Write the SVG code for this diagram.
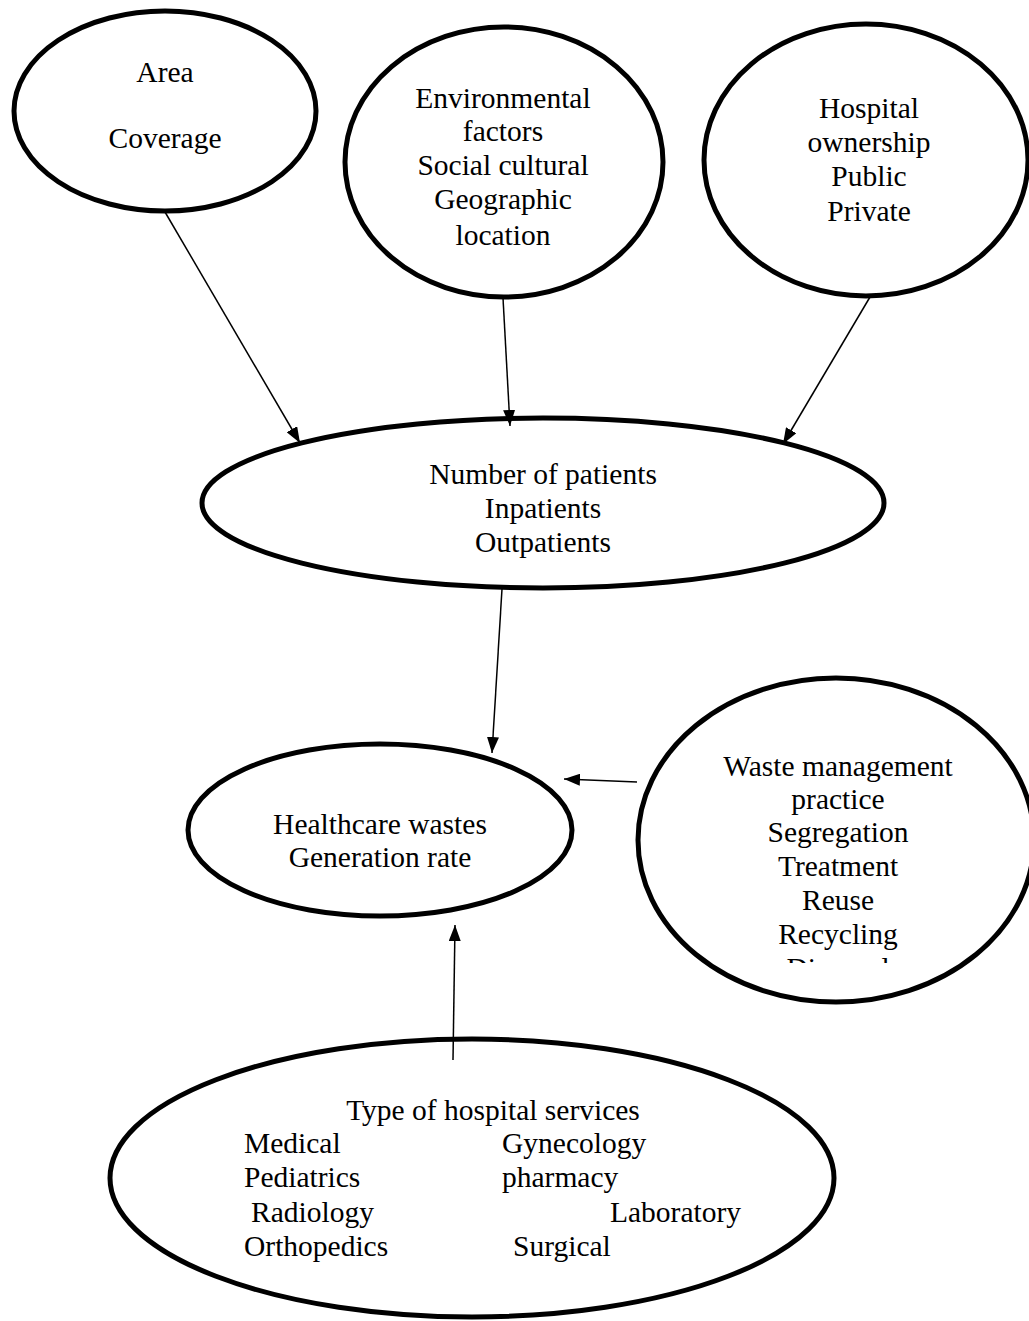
<svg xmlns="http://www.w3.org/2000/svg" width="1029" height="1321" viewBox="0 0 1029 1321">
<style>
.n{fill:#fff;stroke:#000;stroke-width:5}
.t{font-family:"Liberation Serif","Times New Roman",serif;font-size:29.5px;fill:#000}
.c{text-anchor:middle}
.e{stroke:#000;stroke-width:1.5;fill:none;marker-end:url(#ah)}
</style>
<defs>
<marker id="ah" viewBox="0 0 16 12" refX="16" refY="6" markerWidth="16" markerHeight="12" markerUnits="userSpaceOnUse" orient="auto">
<path d="M0,0 L16,6 L0,12 z" fill="#000"/>
</marker>
<clipPath id="wclip"><rect x="600" y="650" width="429" height="313"/></clipPath>
</defs>
<rect width="1029" height="1321" fill="#fff"/>
<g id="area">
<ellipse class="n" cx="165" cy="111" rx="151" ry="100"/>
<text class="t c" x="165" y="82">Area</text>
<text class="t c" x="165" y="148">Coverage</text>
</g>
<g id="environment">
<ellipse class="n" cx="504" cy="162" rx="159" ry="135"/>
<text class="t c" x="503" y="108">Environmental</text>
<text class="t c" x="503" y="141">factors</text>
<text class="t c" x="503" y="175">Social cultural</text>
<text class="t c" x="503" y="209">Geographic</text>
<text class="t c" x="503" y="245">location</text>
</g>
<g id="ownership">
<ellipse class="n" cx="866" cy="160" rx="162" ry="136"/>
<text class="t c" x="869" y="118">Hospital</text>
<text class="t c" x="869" y="152">ownership</text>
<text class="t c" x="869" y="186">Public</text>
<text class="t c" x="869" y="221">Private</text>
</g>
<g id="patients">
<ellipse class="n" cx="543" cy="503" rx="341" ry="85"/>
<text class="t c" x="543" y="484">Number of patients</text>
<text class="t c" x="543" y="518">Inpatients</text>
<text class="t c" x="543" y="552">Outpatients</text>
</g>
<g id="healthcare">
<ellipse class="n" cx="380" cy="830" rx="192" ry="86"/>
<text class="t c" x="380" y="834">Healthcare wastes</text>
<text class="t c" x="380" y="867">Generation rate</text>
</g>
<g id="waste">
<ellipse class="n" cx="836" cy="840" rx="198" ry="162"/>
<text class="t c" x="838" y="776">Waste management</text>
<text class="t c" x="838" y="809">practice</text>
<text class="t c" x="838" y="842">Segregation</text>
<text class="t c" x="838" y="876">Treatment</text>
<text class="t c" x="838" y="910">Reuse</text>
<text class="t c" x="838" y="944">Recycling</text>
<text class="t c" x="838" y="978" clip-path="url(#wclip)">Disposal</text>
</g>
<g id="services">
<ellipse class="n" cx="472" cy="1178" rx="362" ry="139"/>
<text class="t c" x="493" y="1120">Type of hospital services</text>
<text class="t" x="244" y="1153">Medical</text>
<text class="t" x="244" y="1187">Pediatrics</text>
<text class="t" x="251" y="1222">Radiology</text>
<text class="t" x="244" y="1256">Orthopedics</text>
<text class="t" x="502" y="1153">Gynecology</text>
<text class="t" x="502" y="1187">pharmacy</text>
<text class="t" x="610" y="1222">Laboratory</text>
<text class="t" x="513" y="1256">Surgical</text>
</g>
<g id="connectors">
<line class="e" x1="165" y1="212" x2="300" y2="443"/>
<line class="e" x1="503" y1="298" x2="510" y2="426"/>
<line class="e" x1="870" y1="297" x2="783" y2="444"/>
<line class="e" x1="502" y1="589" x2="492" y2="753"/>
<line class="e" x1="637" y1="782" x2="564" y2="779"/>
<line class="e" x1="453" y1="1060" x2="455" y2="925"/>
</g>
</svg>
